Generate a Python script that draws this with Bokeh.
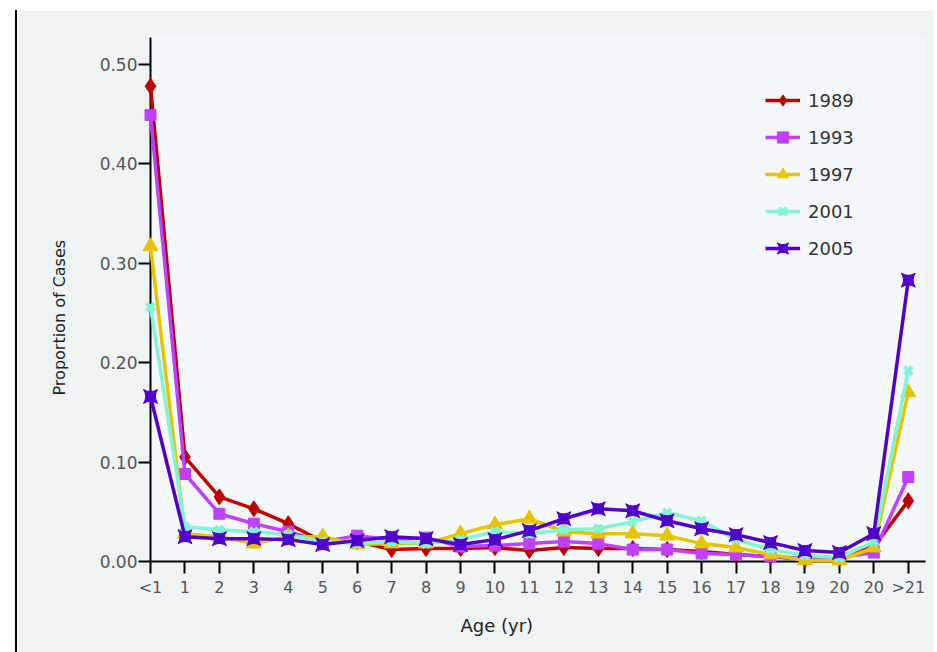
from bokeh.plotting import figure
from bokeh.models import Range1d, FixedTicker, NumeralTickFormatter, Legend, LegendItem, Title
from bokeh.embed import file_html
from bokeh.resources import INLINE

age_labels = ["<1", "1", "2", "3", "4", "5", "6", "7", "8", "9", "10", "11", "12",
              "13", "14", "15", "16", "17", "18", "19", "20", "20", ">21"]
age_pos = list(range(len(age_labels)))

y1989 = [0.478, 0.105, 0.065, 0.053, 0.038, 0.020, 0.020, 0.012, 0.013, 0.013, 0.014, 0.011, 0.014,
         0.013, 0.013, 0.012, 0.010, 0.007, 0.005, 0.002, 0.003, 0.015, 0.061]
y1993 = [0.449, 0.088, 0.048, 0.038, 0.030, 0.020, 0.026, 0.022, 0.024, 0.015, 0.016, 0.018, 0.020,
         0.018, 0.012, 0.012, 0.008, 0.007, 0.005, 0.003, 0.004, 0.009, 0.085]
y1997 = [0.317, 0.028, 0.025, 0.018, 0.025, 0.025, 0.017, 0.018, 0.018, 0.028, 0.037, 0.043, 0.030,
         0.028, 0.028, 0.026, 0.018, 0.014, 0.007, 0.001, 0.001, 0.014, 0.170]
y2001 = [0.256, 0.035, 0.032, 0.030, 0.027, 0.020, 0.018, 0.020, 0.018, 0.022, 0.030, 0.028, 0.032,
         0.033, 0.040, 0.049, 0.041, 0.022, 0.012, 0.006, 0.004, 0.020, 0.192]
y2005 = [0.166, 0.025, 0.023, 0.023, 0.022, 0.017, 0.021, 0.025, 0.023, 0.017, 0.022, 0.031, 0.043,
         0.053, 0.051, 0.041, 0.033, 0.027, 0.019, 0.011, 0.009, 0.028, 0.283]

series = [
    ("1989", y1989, "#C00000", "diamond", 16),
    ("1993", y1993, "#BF40FF", "square", 11),
    ("1997", y1997, "#E8C400", "triangle", 15),
    ("2001", y2001, "#80F5D8", "x", 11),
    ("2005", y2005, "#5000C8", "square_pin", 14),
]

FONT = "DejaVu Sans"

p = figure(width=918, height=642, output_backend="svg", toolbar_location=None,
           x_range=Range1d(0, 22.5), y_range=Range1d(0, 0.527),
           min_border_left=133, min_border_right=10, min_border_top=27, min_border_bottom=91,
           styles={"margin-left": "15px", "margin-top": "10px", "border-left": "2px solid black"})
p.background_fill_color = "#F5F8FA"
p.border_fill_color = "#EEF3F3"
p.outline_line_color = None
p.grid.grid_line_color = None

items = []
for name, ys, col, mk, sz in series:
    r1 = p.line(age_pos, ys, line_color=col, line_width=3.5, level="overlay")
    if mk == "x":
        r2 = p.scatter(age_pos, ys, marker=mk, size=sz, line_color=col, line_width=4, level="overlay")
    else:
        r2 = p.scatter(age_pos, ys, marker=mk, size=sz, fill_color=col, line_color=col, level="overlay")
    items.append(LegendItem(label=name, renderers=[r1, r2]))

legend = Legend(items=items, location=(615, 299), orientation="vertical")
legend.border_line_alpha = 0
legend.background_fill_alpha = 0
legend.padding = 0
legend.margin = 0
legend.spacing = 9
legend.glyph_width = 35
legend.glyph_height = 28
legend.label_height = 20
legend.label_standoff = 8
legend.label_text_font = FONT
legend.label_text_font_size = "18px"
legend.label_text_color = "#333333"
p.add_layout(legend)

xa = p.xaxis[0]
xa.ticker = FixedTicker(ticks=age_pos)
xa.major_label_overrides = {i: s for i, s in zip(age_pos, age_labels)}

ya = p.yaxis[0]
ya.ticker = FixedTicker(ticks=[0.0, 0.1, 0.2, 0.3, 0.4, 0.5])
ya.formatter = NumeralTickFormatter(format="0.00")

for ax in (xa, ya):
    ax.axis_line_color = "black"
    ax.axis_line_width = 2
    ax.major_tick_line_color = "black"
    ax.major_tick_line_width = 2
    ax.major_tick_out = 12
    ax.major_tick_in = 0
    ax.minor_tick_line_color = None
    ax.major_label_text_font = FONT
    ax.major_label_text_color = "#555555"
xa.major_label_text_font_size = "16px"
ya.major_label_text_font_size = "17px"
xa.major_label_standoff = 4
ya.major_label_standoff = 1

xt = Title(text="Age (yr)", align="left", offset=310, vertical_align="top", standoff=30,
           text_font=FONT, text_font_size="18px", text_font_style="normal", text_color="#222222")
p.add_layout(xt, "below")
yt = Title(text="Proportion of Cases", align="left", offset=166, vertical_align="bottom", standoff=56,
           text_font=FONT, text_font_size="16px", text_font_style="normal", text_color="#222222")
p.add_layout(yt, "left")

open("out.html", "w").write(file_html(p, INLINE))
